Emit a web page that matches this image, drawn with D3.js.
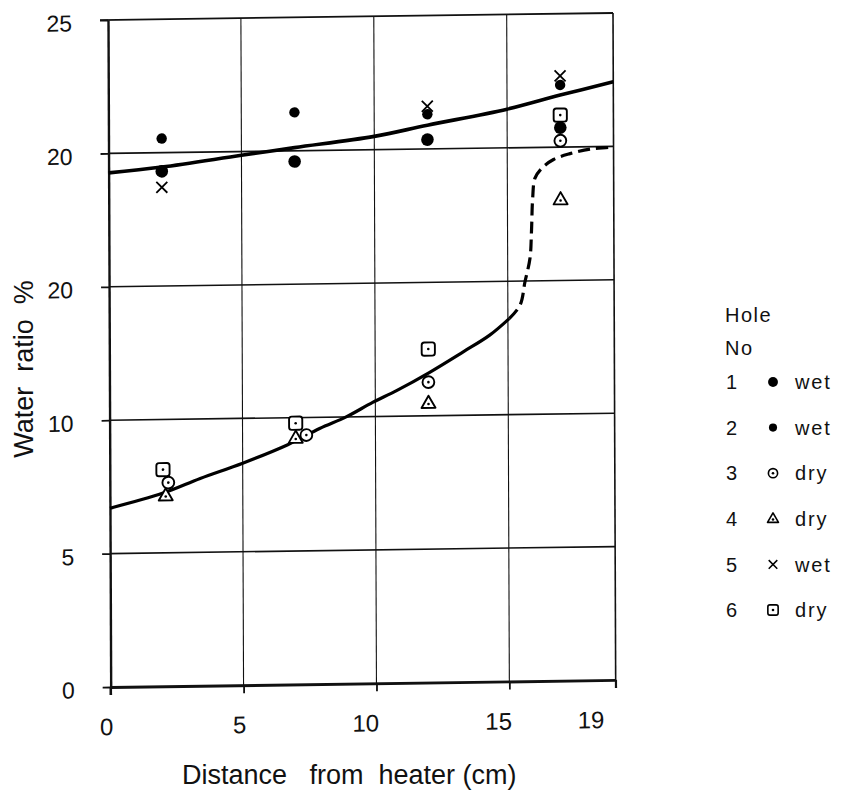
<!DOCTYPE html>
<html>
<head>
<meta charset="utf-8">
<script src="https://cdn.jsdelivr.net/npm/d3@7"></script>
<style>
  html, body { margin: 0; padding: 0; background: #fff; }
  svg { display: block; }
  text { font-family: "Liberation Sans", Arial, sans-serif; fill: #111; }
</style>
</head>
<body>
<svg id="chart" width="845" height="791"></svg>
<script>
// ---- axes ----
const xTickValues = [0, 5, 10, 15, 19];
const yTickValues = [0, 5, 10, 15, 20, 25];
const yTickLabels = ["0", "5", "10", "20", "20", "25"];

// ---- legend ----
const holeIds = [1, 2, 3, 4, 5, 6];
const holeStates = ["wet", "wet", "dry", "dry", "wet", "dry"];

// ---- measured water ratio (%) per hole, x = distance from heater (cm) ----
const hole1X = [2, 7, 12, 17];
const hole1Y = [19.3, 19.6, 20.35, 20.73];
const hole2X = [2, 7, 12, 17];
const hole2Y = [20.53, 21.44, 21.3, 22.33];
const hole3X = [2.2, 7.4, 12, 17];
const hole3Y = [7.63, 9.34, 11.26, 20.24];
const hole4X = [2.1, 7, 12, 17];
const hole4Y = [7.14, 9.23, 10.47, 18.03];
const hole5X = [2, 12, 17];
const hole5Y = [18.7, 21.6, 22.67];
const hole6X = [2, 7, 12, 17];
const hole6Y = [8.12, 9.79, 12.5, 21.2];

// ---- fitted curves ----
const wetCurveX = [0, 2, 5, 7, 10, 12, 15, 17, 19];
const wetCurveY = [19.27, 19.46, 19.86, 20.12, 20.5, 20.89, 21.45, 21.95, 22.42];

const dryCurveX = [0, 2, 3.4, 5, 6.7, 7.9, 8.9, 9.9, 10.8, 12.05, 13.3, 14.3, 15.05];
const dryCurveY = [6.7, 7.24, 7.77, 8.32, 8.99, 9.58, 10.0, 10.53, 10.96, 11.63, 12.37, 12.98, 13.6];

const dryDashX = [15.05, 15.46, 15.65, 15.84, 15.9, 15.95, 16.04, 16.3, 16.74, 17.36, 18.12, 18.87, 19];
const dryDashY = [13.6, 14.1, 14.98, 15.85, 16.85, 18.1, 18.85, 19.22, 19.54, 19.75, 19.91, 19.97, 20.0];

const zip = (xs, ys) => xs.map((x, i) => [x, ys[i]]);
const holeData = [
  zip(hole1X, hole1Y), zip(hole2X, hole2Y), zip(hole3X, hole3Y),
  zip(hole4X, hole4Y), zip(hole5X, hole5Y), zip(hole6X, hole6Y)
];

const svg = d3.select("#chart");
const W = 505, H = 667;

const x = d3.scaleLinear().domain([0, 19]).range([0, W]);
const y = d3.scaleLinear().domain([0, 25]).range([H, 0]);

// plot frame, slightly sheared like a scanned drawing
const plot = svg.append("g")
  .attr("transform", "matrix(1,-0.0139,0.004,1,108,20)");

// gridlines
plot.append("g").selectAll("line.h")
  .data(yTickValues.filter(v => v > 0 && v < 25))
  .join("line")
  .attr("x1", 0).attr("x2", W)
  .attr("y1", d => y(d)).attr("y2", d => y(d))
  .attr("stroke", "#111").attr("stroke-width", 1.6);

plot.append("g").selectAll("line.v")
  .data(xTickValues.filter(v => v > 0 && v < 19))
  .join("line")
  .attr("x1", d => x(d)).attr("x2", d => x(d))
  .attr("y1", 0).attr("y2", H)
  .attr("stroke", "#111").attr("stroke-width", 1.1);

// top and right frame
plot.append("line").attr("x1", -8).attr("x2", W).attr("y1", 0).attr("y2", 0)
  .attr("stroke", "#111").attr("stroke-width", 1.8);
plot.append("line").attr("x1", W).attr("x2", W).attr("y1", 0).attr("y2", H + 8)
  .attr("stroke", "#111").attr("stroke-width", 1.6);

// axes
const yAxis = d3.axisLeft(y)
  .tickValues(yTickValues)
  .tickFormat((d, i) => yTickLabels[i])
  .tickSize(8).tickSizeOuter(0).tickPadding(28);

const gy = plot.append("g").call(yAxis);
gy.select(".domain").attr("stroke", "#111").attr("stroke-width", 2.4);
gy.selectAll(".tick line").attr("stroke", "#111").attr("stroke-width", 1.8);
gy.selectAll(".tick text")
  .attr("font-family", "Liberation Sans, Arial, sans-serif")
  .attr("font-size", 23).attr("fill", "#111").attr("dy", "0.45em");

const xAxis = d3.axisBottom(x)
  .tickValues(xTickValues)
  .tickFormat(d3.format("d"))
  .tickSize(8).tickSizeOuter(0).tickPadding(23);

const gx = plot.append("g").attr("transform", `translate(0,${H})`).call(xAxis);
gx.select(".domain").attr("stroke", "#111").attr("stroke-width", 2.8);
gx.selectAll(".tick line").attr("stroke", "#111").attr("stroke-width", 1.8);
gx.selectAll(".tick text")
  .attr("font-family", "Liberation Sans, Arial, sans-serif")
  .attr("font-size", 24).attr("fill", "#111")
  .attr("text-anchor", "end")
  .attr("dx", (d, i) => i === xTickValues.length - 1 ? -12 : 2);

// left axis stub below the x axis
plot.append("line").attr("x1", 0).attr("x2", 0).attr("y1", H).attr("y2", H + 8)
  .attr("stroke", "#111").attr("stroke-width", 2.4);

// curves
const line = d3.line()
  .x(d => x(d[0])).y(d => y(d[1]))
  .curve(d3.curveCatmullRom.alpha(0.5));

plot.append("path").datum(zip(wetCurveX, wetCurveY))
  .attr("d", line).attr("fill", "none")
  .attr("stroke", "#000").attr("stroke-width", 3.6);

plot.append("path").datum(zip(dryCurveX, dryCurveY))
  .attr("d", line).attr("fill", "none")
  .attr("stroke", "#000").attr("stroke-width", 3.2);

plot.append("path").datum(zip(dryDashX, dryDashY))
  .attr("d", line).attr("fill", "none")
  .attr("stroke", "#000").attr("stroke-width", 3.2)
  .attr("stroke-dasharray", "12,6");

// marker glyphs, k scales the glyph size
function drawMarker(g, hole, k) {
  const sw = 1.9 * Math.max(k, 0.85);
  if (hole === 1) {
    g.append("circle").attr("r", 6.3 * k).attr("fill", "#000");
  } else if (hole === 2) {
    g.append("circle").attr("r", 5.2 * k).attr("fill", "#000");
  } else if (hole === 3) {
    g.append("circle").attr("r", 5.9 * k).attr("fill", "#fff")
      .attr("stroke", "#000").attr("stroke-width", sw);
    g.append("circle").attr("r", 1.3).attr("fill", "#000");
  } else if (hole === 4) {
    const s = 7 * k;
    g.append("path")
      .attr("d", `M0,${-s * 1.08}L${s},${s * 0.66}L${-s},${s * 0.66}Z`)
      .attr("fill", "#fff").attr("stroke", "#000")
      .attr("stroke-width", sw).attr("stroke-linejoin", "round");
    g.append("circle").attr("cy", s * 0.12).attr("r", 1.3).attr("fill", "#000");
  } else if (hole === 5) {
    const s = 5.5 * k;
    g.append("path")
      .attr("d", `M${-s},${-s}L${s},${s}M${s},${-s}L${-s},${s}`)
      .attr("stroke", "#000").attr("stroke-width", 1.8 * Math.max(k, 0.85));
  } else if (hole === 6) {
    const s = 6.6 * k;
    g.append("rect").attr("x", -s).attr("y", -s)
      .attr("width", 2 * s).attr("height", 2 * s).attr("rx", 2.6 * k)
      .attr("fill", "#fff").attr("stroke", "#000").attr("stroke-width", sw);
    g.append("circle").attr("r", 1.3).attr("fill", "#000");
  }
}

// drawing order keeps open symbols above the filled ones
const drawOrder = [5, 1, 2, 6, 3, 4];
drawOrder.forEach(hole => {
  const pts = holeData[hole - 1];
  plot.append("g").selectAll("g")
    .data(pts).join("g")
    .attr("transform", d => `translate(${x(d[0])},${y(d[1])})`)
    .each(function () { drawMarker(d3.select(this), hole, 1); });
});

// axis titles
svg.append("text")
  .attr("transform", "translate(33,369) rotate(-90)")
  .attr("text-anchor", "middle")
  .attr("font-size", 27)
  .style("white-space", "pre")
  .text("Water  ratio  %");

svg.append("text")
  .attr("x", 182).attr("y", 784)
  .attr("font-size", 27)
  .style("white-space", "pre")
  .text("Distance   from  heater (cm)");

// legend
const legend = svg.append("g").attr("transform", "translate(725,0)");
legend.append("text").attr("x", 0).attr("y", 322)
  .attr("font-size", 20).attr("letter-spacing", 1.5).text("Hole");
legend.append("text").attr("x", 0).attr("y", 355)
  .attr("font-size", 20).attr("letter-spacing", 1.5).text("No");

const rowY = i => 382 + i * 45.6;
holeIds.forEach((id, i) => {
  const row = legend.append("g").attr("transform", `translate(0,${rowY(i)})`);
  row.append("text").attr("x", 1).attr("y", 7.2)
    .attr("font-size", 20).text(String(id));
  const m = row.append("g").attr("transform", "translate(48,0)");
  drawMarker(m, id, 0.78);
  row.append("text").attr("x", 70).attr("y", 7.2)
    .attr("font-size", 20).attr("letter-spacing", 1.8).text(holeStates[i]);
});
</script>
</body>
</html>
